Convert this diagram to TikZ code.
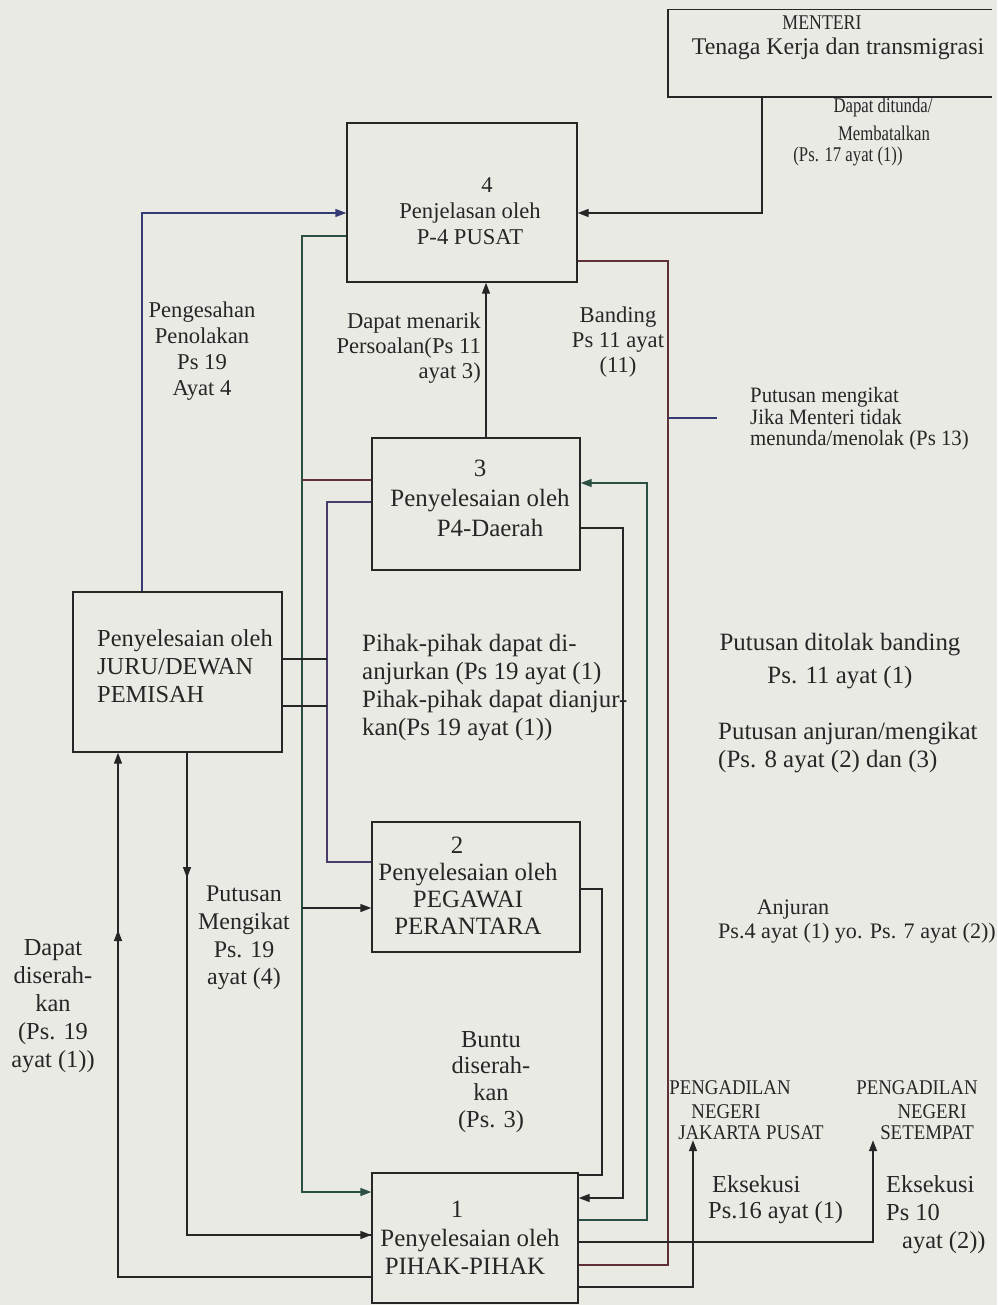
\documentclass[tikz,border=0pt]{standalone}
\usepackage{fontspec}
\setmainfont{Liberation Serif}
\usetikzlibrary{arrows.meta}
\definecolor{bg}{RGB}{234,234,229}
\definecolor{ink}{RGB}{38,38,38}
\definecolor{lred}{RGB}{95,50,55}
\definecolor{lpur}{RGB}{72,58,105}
\definecolor{lgrn}{RGB}{42,80,68}
\definecolor{lblu}{RGB}{52,60,115}
\newcommand\fs[2]{\fontsize{#1}{#2}\selectfont}
\newcommand\cnd[1]{\scalebox{0.8}[1]{#1}}
\newcommand\cnc[1]{\scalebox{0.9}[1]{#1}}
\begin{document}
\begin{tikzpicture}[x=1bp,y=-1bp,
  box/.style={draw=ink, line width=1.4bp, inner sep=0pt},
  ln/.style={draw=ink, line width=1.4bp},
  arr/.style={ln, -{Triangle[length=11bp,width=8bp]}},
  t/.style={text=ink, inner sep=0pt, align=center},
  tl/.style={text=ink, inner sep=0pt, align=left},
  tr/.style={text=ink, inner sep=0pt, align=right},
]
\fill[bg] (0,0) rectangle (997,1305);
\useasboundingbox (0,0) rectangle (997,1305);

% ---------- boxes ----------
\node[inner sep=0pt, minimum width=324bp, minimum height=87bp] (menteri) at (830,53.5) {};
\draw[ln] (menteri.north east) -- (menteri.north west) -- (menteri.south west) -- (menteri.south east);
\node[box, minimum width=230bp, minimum height=159bp] (b4) at (462,202.5) {};
\node[box, minimum width=208bp, minimum height=132bp] (b3) at (476,504) {};
\node[box, minimum width=208bp, minimum height=130bp] (b2) at (476,887) {};
\node[box, minimum width=206bp, minimum height=130bp] (b1) at (475,1238) {};
\node[box, minimum width=209bp, minimum height=160bp] (juru) at (177.5,672) {};

% ---------- box texts ----------
\node[t, font=\fs{21}{22}] (mt1) at (822,23) {\scalebox{0.85}[1]{MENTERI}};
\node[t, font=\fs{24}{26}] (mt2) at (838,49) {Tenaga Kerja dan transmigrasi};
\node[t, font=\fs{22.7}{26}] (t4) at (470,211) {\hspace*{34bp}4\\Penjelasan oleh\\P-4 PUSAT};
\node[t, font=\fs{25}{30}] (t3) at (480,498) {3\\Penyelesaian oleh\\\hspace*{20bp}P4-Daerah};
\node[t, font=\fs{25}{27}] (t2) at (468,886) {2\hspace*{22bp}\\Penyelesaian oleh\\PEGAWAI\\PERANTARA};
\node[t, font=\fs{25}{28.5}] (t1) at (470,1238) {1\hspace*{26bp}\\Penyelesaian oleh\\PIHAK-PIHAK\hspace*{10bp}};
\node[tl, font=\fs{24.5}{28}, anchor=west] (tj) at (97,666) {Penyelesaian oleh\\JURU/DEWAN\\PEMISAH};

% ---------- labels ----------
\node[t, font=\fs{21}{22}] (d1) at (883,107) {\cnd{Dapat ditunda/}};
\node[t, font=\fs{21}{22}] (d2) at (884,133) {\cnd{Membatalkan}};
\node[t, font=\fs{21}{22}] (d3) at (848,157) {\cnd{(Ps. 17 ayat (1))}};
\node[t, font=\fs{22.7}{26}] (peng) at (202,351) {Pengesahan\\Penolakan\\Ps 19\\Ayat 4};
\node[tr, font=\fs{22.7}{25.5}, anchor=east] (menarik) at (481,348) {Dapat menarik\\Persoalan(Ps 11\\ayat 3)};
\node[t, font=\fs{22.7}{25.5}] (banding) at (618,342) {Banding\\Ps 11 ayat\\(11)};
\node[tl, font=\fs{22}{21.5}, anchor=west] (mengikat) at (750,419) {\scalebox{0.95}[1]{Putusan mengikat}\\\scalebox{0.95}[1]{Jika Menteri tidak}\\\scalebox{0.95}[1]{menunda/menolak (Ps 13)}};
\node[tl, font=\fs{25}{28.3}, anchor=west] (pihak) at (362,687.5) {Pihak-pihak dapat di-\\anjurkan (Ps 19 ayat (1)\\Pihak-pihak dapat dianjur-\\kan(Ps 19 ayat (1))};
\node[t, font=\fs{25}{33}] (ditolak) at (840,661) {Putusan ditolak banding\\Ps. 11 ayat (1)};
\node[tl, font=\fs{25}{29}, anchor=west] (anjm) at (718,747.5) {Putusan anjuran/mengikat\\(Ps. 8 ayat (2) dan (3)};
\node[t, font=\fs{22.2}{24}] (anj1) at (793,910) {Anjuran};
\node[t, font=\fs{22.2}{24}] (anj2) at (857,933) {Ps.4 ayat (1) yo. Ps. 7 ayat (2))};
\node[t, font=\fs{21}{22}] (pa1) at (730,1088) {\cnc{PENGADILAN}};
\node[t, font=\fs{21}{22}] (pa2) at (726,1112) {\cnc{NEGERI}};
\node[t, font=\fs{21}{22}] (jak) at (751,1133) {\cnc{JAKARTA PUSAT}};
\node[t, font=\fs{21}{22}] (pb1) at (917,1088) {\cnc{PENGADILAN}};
\node[t, font=\fs{21}{22}] (pb2) at (932,1112) {\cnc{NEGERI}};
\node[t, font=\fs{21}{22}] (setempat) at (927,1133) {\cnc{SETEMPAT}};
\node[tl, font=\fs{24.5}{26}, anchor=west] (eks1) at (708,1200) {\hspace*{4bp}Eksekusi\\Ps.16 ayat (1)};
\node[tl, font=\fs{24.5}{28}, anchor=west] (eks2) at (886,1215) {Eksekusi\\Ps 10\\\hspace*{16bp}ayat (2))};
\node[t, font=\fs{24.5}{28}] (diserah) at (53,1006) {Dapat\\diserah-\\kan\\(Ps. 19\\ayat (1))};
\node[t, font=\fs{24}{27.7}] (putmeng) at (244,938) {Putusan\\Mengikat\\Ps. 19\\ayat (4)};
\node[t, font=\fs{24.5}{27}] (buntu) at (491,1082) {Buntu\\diserah-\\kan\\(Ps. 3)};

% ---------- connectors ----------
\draw[arr] (menteri.south -| 762,0) |- (b4.east |- 0,213);
\draw[arr, draw=lblu] (juru.north -| 142,0) |- (b4.west |- 0,213);
\draw[arr, draw=lgrn] (b4.west |- 0,236) -| (302,1192) -- (b1.west |- 0,1192);
\draw[arr] (b3.north -| 486,0) -- (b4.south -| 486,0);
\draw[ln, draw=lred] (b4.east |- 0,261) -| (668,1265) -- (b1.east |- 0,1265);
\coordinate (tickend) at (717,418);
\draw[ln, draw=lblu] (668,418) -- (tickend);
\draw[ln, draw=lred] (b3.west |- 0,480) -- (302,480);
\draw[ln, draw=lpur] (b3.west |- 0,502) -| (327,862) -- (b2.west |- 0,862);
\draw[ln] (juru.east |- 0,659) -- (327,659);
\draw[ln] (juru.east |- 0,706) -- (327,706);
\draw[arr] (juru.south -| 187,0) -- (187,878);
\draw[ln] (187,870) |- (b1.west |- 0,1235);
\draw[arr] (187,1230) |- (b1.west |- 0,1235);
\draw[arr] (b1.west |- 0,1277) -| (118,930);
\draw[arr] (118,935) -- (juru.south -| 118,0);
\draw[arr] (302,908) -- (b2.west |- 0,908);
\draw[ln] (b2.east |- 0,889) -| (602,1175) -- (b1.east |- 0,1175);
\draw[arr] (b3.east |- 0,528) -| (623,1198) -- (b1.east |- 0,1198);
\draw[arr, draw=lgrn] (b1.east |- 0,1220) -| (647,483) -- (b3.east |- 0,483);
\draw[arr] (b1.east |- 0,1242) -| (setempat.south -| 873,0);
\draw[arr] (b1.east |- 0,1287) -| (jak.south -| 693,0);
\end{tikzpicture}
\end{document}
